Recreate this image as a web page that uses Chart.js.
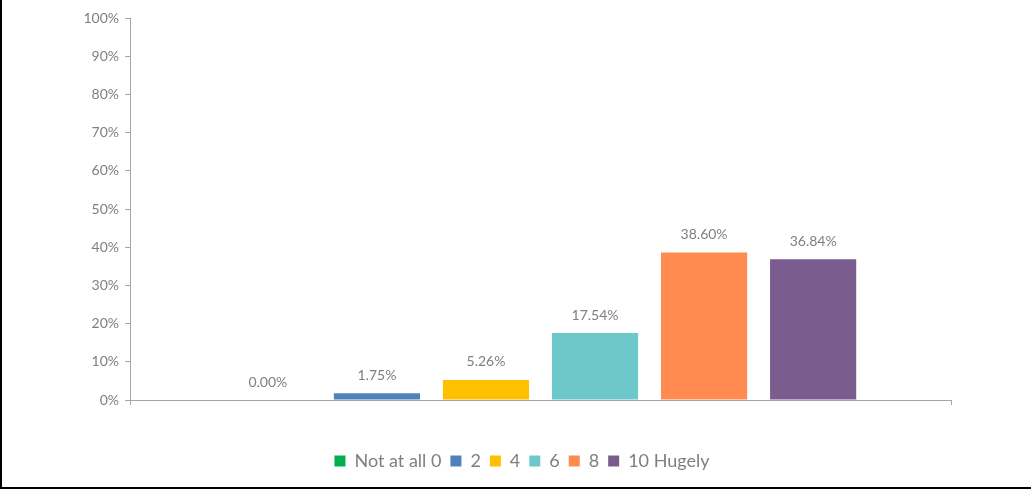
<!DOCTYPE html>
<html lang="en">
<head>
    <meta charset="UTF-8">
    <title>Rating distribution</title>
    <script src="https://cdn.jsdelivr.net/npm/chart.js"></script>
    <style>
        html, body {
            margin: 0;
            padding: 0;
            background: #fff;
        }
        #wrap {
            width: 1029px;
            height: 487px;
            border-left: 2px solid #000;
            border-bottom: 2px solid #000;
            position: relative;
        }
    </style>
</head>
<body>
    <div id="wrap">
        <canvas id="chartCanvas"></canvas>
    </div>

    <script>
        const seriesNames = ['Not at all 0', '2', '4', '6', '8', '10 Hugely'];
        const seriesValues = [0.00, 1.75, 5.26, 17.54, 38.60, 36.84];
        const seriesColors = ['#00b050', '#4f81bd', '#ffc000', '#6cc8cb', '#ff8b50', '#7b5c8e'];
        const yTicks = [0, 10, 20, 30, 40, 50, 60, 70, 80, 90, 100];

        const textColor = '#7f7f7f';
        const axisColor = '#a6a6a6';
        const fontFamily = 'Lato, "Open Sans", sans-serif';

        // value labels above each bar
        const barLabels = {
            id: 'barLabels',
            afterDatasetsDraw(chart) {
                const ctx = chart.ctx;
                ctx.save();
                ctx.font = '14px ' + fontFamily;
                ctx.fillStyle = textColor;
                ctx.textAlign = 'center';
                ctx.textBaseline = 'middle';
                chart.data.datasets.forEach((ds, i) => {
                    const bar = chart.getDatasetMeta(i).data[0];
                    ctx.fillText(ds.data[0].toFixed(2) + '%', bar.x, bar.y - 18);
                });
                ctx.restore();
            }
        };

        const ctx = document.getElementById('chartCanvas').getContext('2d');
        const chart = new Chart(ctx, {
            type: 'bar',
            data: {
                labels: [''],
                datasets: seriesNames.map((name, i) => ({
                    label: name,
                    data: [seriesValues[i]],
                    backgroundColor: seriesColors[i],
                    borderWidth: 0,
                    categoryPercentage: 0.797,
                    barPercentage: 0.79
                }))
            },
            options: {
                responsive: true,
                maintainAspectRatio: false,
                animation: false,
                layout: {
                    padding: { top: 18, right: 0, bottom: 7, left: 11 }
                },
                scales: {
                    x: {
                        afterFit: (scale) => {
                            scale.height = 43;
                        },
                        grid: {
                            offset: true,
                            drawOnChartArea: false,
                            color: axisColor,
                            tickLength: 5
                        },
                        border: { color: axisColor },
                        ticks: { display: false }
                    },
                    y: {
                        min: 0,
                        max: 100,
                        afterBuildTicks: (scale) => {
                            scale.ticks = yTicks.map(v => ({ value: v }));
                        },
                        afterFit: (scale) => {
                            scale.width = 117;
                        },
                        grid: {
                            drawOnChartArea: false,
                            color: axisColor,
                            tickLength: 5
                        },
                        border: { color: axisColor },
                        ticks: {
                            color: textColor,
                            font: { family: fontFamily, size: 14 },
                            padding: 6,
                            callback: v => v + '%'
                        }
                    },
                    // empty axis that keeps the margin on the right
                    spacer: {
                        type: 'linear',
                        position: 'right',
                        display: true,
                        afterFit: (scale) => {
                            scale.width = 80;
                        },
                        grid: { display: false, drawTicks: false },
                        border: { display: false },
                        ticks: { display: false }
                    }
                },
                plugins: {
                    legend: {
                        position: 'bottom',
                        labels: {
                            color: textColor,
                            font: { family: fontFamily, size: 18 },
                            boxWidth: 11,
                            boxHeight: 11,
                            padding: 9
                        }
                    },
                    tooltip: { enabled: false }
                }
            },
            plugins: [barLabels]
        });
    </script>
</body>
</html>
